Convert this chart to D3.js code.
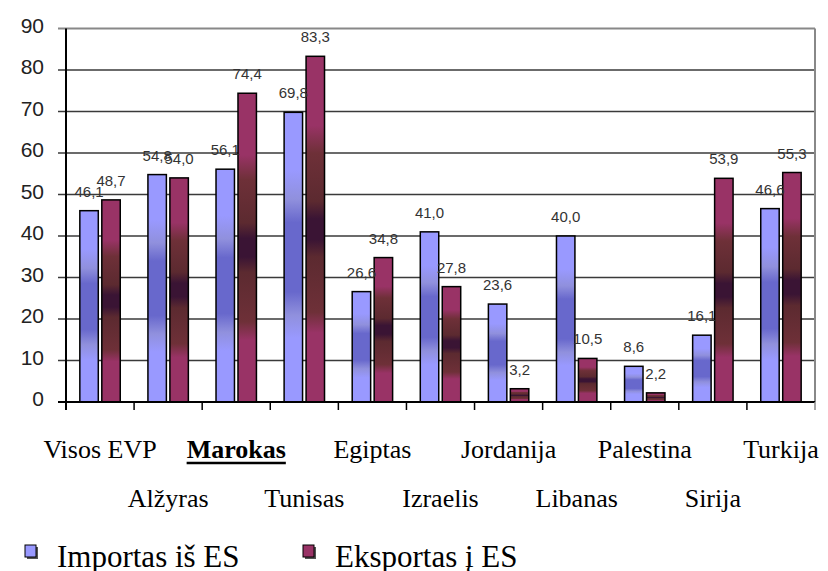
<!DOCTYPE html>
<html>
<head>
<meta charset="utf-8">
<script src="https://cdn.jsdelivr.net/npm/d3@7"></script>
<style>
body { margin: 0; background: #fff; }
.serif { font-family: "Liberation Serif", "Times New Roman", "DejaVu Serif", serif; }
.sans { font-family: "Liberation Sans", Arial, sans-serif; }
</style>
</head>
<body>
<div id="chart"></div>
<script>
var countries = ["Visos EVP", "Alžyras", "Marokas", "Tunisas", "Egiptas", "Izraelis", "Jordanija", "Libanas", "Palestina", "Sirija", "Turkija"];
var importValues = [46.1, 54.8, 56.1, 69.8, 26.6, 41.0, 23.6, 40.0, 8.6, 16.1, 46.6];
var exportValues = [48.7, 54.0, 74.4, 83.3, 34.8, 27.8, 3.2, 10.5, 2.2, 53.9, 55.3];
var seriesNames = ["Importas iš ES", "Eksportas į ES"];
var yTicks = [0, 10, 20, 30, 40, 50, 60, 70, 80, 90];
var highlighted = "Marokas";

var width = 828;
var height = 571;
var plotLeft = 66, plotRight = 815, plotTop = 28.5, plotBottom = 402;

var svg = d3.select("#chart").append("svg")
          .attr("width", width)
          .attr("height", height);

var lt = d3.formatLocale({decimal: ",", thousands: " ", grouping: [3], currency: ["", ""]});
var fmt = lt.format(".1f");

var x0 = d3.scaleBand().domain(countries).range([plotLeft, plotRight]);
var x1 = d3.scaleBand().domain(seriesNames).range([0, x0.bandwidth()]).paddingInner(0.16).paddingOuter(0.63);
var y = d3.scaleLinear().domain([0, 90]).range([plotBottom, plotTop]);

var colors = {"Importas iš ES": "#9999ff", "Eksportas į ES": "#993366"};

// blotchy fill like the original picture
var defs = svg.append("defs");
function grad(id, stops) {
  var g = defs.append("linearGradient").attr("id", id)
    .attr("x1", 0).attr("y1", 0).attr("x2", 0).attr("y2", 1);
  stops.forEach(function(s) {
    g.append("stop").attr("offset", s[0]).attr("stop-color", s[1]);
  });
}
grad("gImp", [[0, "#9999ff"], [0.2, "#9999ff"], [0.3, "#9090dd"], [0.38, "#6868cc"], [0.62, "#6868cc"], [0.7, "#9090dd"], [0.78, "#9999ff"], [1, "#9999ff"]]);
grad("gExp", [[0, "#993366"], [0.2, "#993366"], [0.28, "#6e3038"], [0.42, "#5c2a30"], [0.47, "#3a1434"], [0.53, "#3a1434"], [0.58, "#5c2a30"], [0.74, "#6e3038"], [0.8, "#993366"], [1, "#993366"]]);
var fills = {"Importas iš ES": "url(#gImp)", "Eksportas į ES": "url(#gExp)"};

// grid
svg.append("g").selectAll("line")
   .data(yTicks.filter(function(d) { return d > 0 && d < 90; }))
   .enter().append("line")
   .attr("x1", plotLeft - 8).attr("x2", plotRight)
   .attr("y1", function(d) { return y(d); })
   .attr("y2", function(d) { return y(d); })
   .attr("stroke", "#3a3a3a").attr("stroke-width", 1.5);

svg.append("line")
   .attr("x1", plotLeft - 8).attr("x2", plotRight)
   .attr("y1", y(90)).attr("y2", y(90))
   .attr("stroke", "#888").attr("stroke-width", 2);
svg.append("line")
   .attr("x1", plotRight).attr("x2", plotRight)
   .attr("y1", y(90)).attr("y2", y(0))
   .attr("stroke", "#888").attr("stroke-width", 2);

// bars
var rows = countries.map(function(c, i) {
  return {country: c, values: [
    {series: seriesNames[0], value: importValues[i]},
    {series: seriesNames[1], value: exportValues[i]}
  ]};
});

var groups = svg.selectAll(".grp")
   .data(rows)
   .enter().append("g")
   .attr("class", "grp")
   .attr("transform", function(d) { return "translate(" + x0(d.country) + ",0)"; });

groups.selectAll("rect")
   .data(function(d) { return d.values; })
   .enter().append("rect")
   .attr("x", function(d) { return x1(d.series); })
   .attr("width", x1.bandwidth())
   .attr("y", function(d) { return y(d.value); })
   .attr("height", function(d) { return y(0) - y(d.value); })
   .attr("fill", function(d) { return fills[d.series]; })
   .attr("stroke", "#000").attr("stroke-width", 1.5);

groups.selectAll("text")
   .data(function(d) { return d.values; })
   .enter().append("text")
   .attr("class", "sans")
   .attr("x", function(d) { return x1(d.series) + x1.bandwidth() / 2; })
   .attr("y", function(d) { return y(d.value) - 14; })
   .attr("text-anchor", "middle")
   .attr("font-size", 15)
   .attr("fill", "#333")
   .text(function(d) { return fmt(d.value); });

// axes
svg.append("line")
   .attr("x1", plotLeft).attr("x2", plotLeft)
   .attr("y1", y(90)).attr("y2", y(0) + 8)
   .attr("stroke", "#000").attr("stroke-width", 2);
svg.append("line")
   .attr("x1", plotLeft - 8).attr("x2", plotRight)
   .attr("y1", y(0)).attr("y2", y(0))
   .attr("stroke", "#000").attr("stroke-width", 2);

var bounds = countries.map(function(c) { return x0(c); }).concat([plotRight]);
svg.append("g").selectAll("line")
   .data(bounds)
   .enter().append("line")
   .attr("x1", function(d) { return d; }).attr("x2", function(d) { return d; })
   .attr("y1", y(0)).attr("y2", y(0) + 8)
   .attr("stroke", function(d, i) { return i === bounds.length - 1 ? "#888" : "#000"; })
   .attr("stroke-width", 1.5);

svg.append("g").selectAll("text")
   .data(yTicks)
   .enter().append("text")
   .attr("class", "sans")
   .attr("x", 44)
   .attr("y", function(d) { return y(d) + 4; })
   .attr("text-anchor", "end")
   .attr("font-size", 21)
   .attr("fill", "#222")
   .text(function(d) { return d; });

// category labels in two rows
var catLabels = svg.append("g").selectAll("text")
   .data(countries)
   .enter().append("text")
   .attr("class", "serif")
   .attr("x", function(d) { return x0(d) + x0.bandwidth() / 2; })
   .attr("y", function(d, i) { return i % 2 === 0 ? 458 : 507; })
   .attr("text-anchor", "middle")
   .attr("font-size", 26)
   .attr("font-weight", function(d) { return d === highlighted ? "bold" : "normal"; })
   .attr("fill", "#000")
   .text(function(d) { return d; });

catLabels.filter(function(d) { return d === highlighted; }).each(function(d) {
  var w = this.getComputedTextLength();
  var cx = x0(d) + x0.bandwidth() / 2;
  svg.append("line")
     .attr("x1", cx - w / 2).attr("x2", cx + w / 2)
     .attr("y1", 463).attr("y2", 463)
     .attr("stroke", "#000").attr("stroke-width", 2.5);
});

// legend
var legendX = [25, 303];
var legend = svg.append("g").selectAll("g")
   .data(seriesNames)
   .enter().append("g")
   .attr("transform", function(d, i) { return "translate(" + legendX[i] + ",545)"; });

legend.append("rect")
   .attr("x", 2).attr("y", 2).attr("width", 11).attr("height", 12)
   .attr("fill", "#555");
legend.append("rect")
   .attr("x", 0).attr("y", 0).attr("width", 11).attr("height", 12)
   .attr("fill", function(d) { return colors[d]; })
   .attr("stroke", "#000").attr("stroke-width", 1);
legend.append("text")
   .attr("class", "serif")
   .attr("x", 32)
   .attr("y", 22)
   .attr("font-size", 31)
   .attr("fill", "#000")
   .text(function(d) { return d; });
</script>
</body>
</html>
